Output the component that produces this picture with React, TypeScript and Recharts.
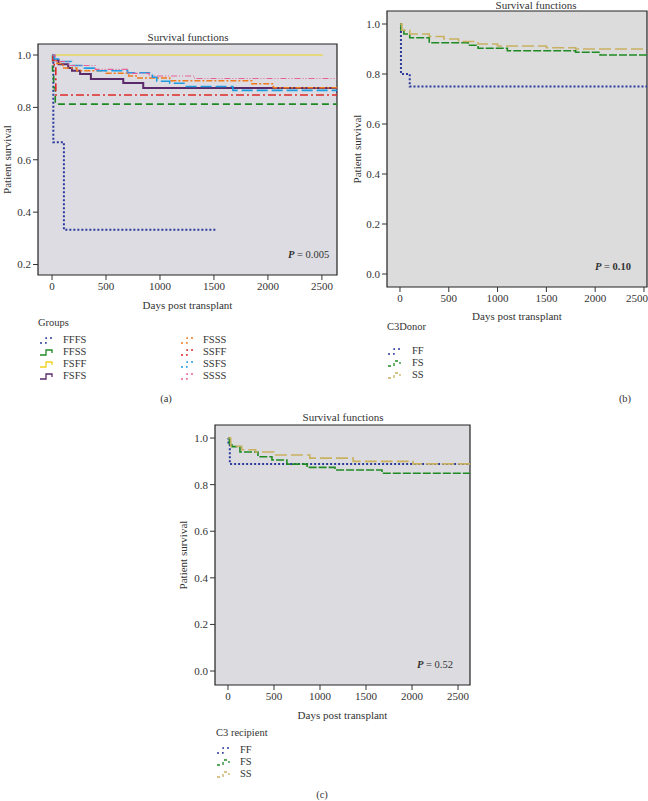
import React from "react";
import { LineChart, Line, XAxis, YAxis, CartesianGrid, ReferenceArea } from "recharts";

// ---------- Panel (a): Groups ----------
const fffsDays = [0, 12, 110, 1520];
const fffsSurv = [1.0, 0.667, 0.333, 0.333];
const ffssDays = [0, 5, 15, 30, 2640];
const ffssSurv = [1.0, 0.94, 0.875, 0.8125, 0.8125];
const fsffDays = [0, 2510];
const fsffSurv = [1.0, 1.0];
const fsfsDays = [0, 10, 60, 150, 185, 260, 360, 660, 845, 2640];
const fsfsSurv = [1.0, 0.98, 0.965, 0.95, 0.94, 0.927, 0.908, 0.893, 0.874, 0.855];
const fsssDays = [0, 20, 45, 100, 230, 500, 710, 780, 1090, 1850, 2050, 2640];
const fsssSurv = [1.0, 0.98, 0.968, 0.95, 0.94, 0.93, 0.92, 0.912, 0.902, 0.89, 0.875, 0.875];
const ssffDays = [0, 8, 20, 35, 2640];
const ssffSurv = [1.0, 0.98, 0.95, 0.847, 0.847];
const ssfsDays = [0, 20, 60, 180, 300, 420, 700, 930, 970, 1090, 1230, 1676, 2640];
const ssfsSurv = [1.0, 0.985, 0.975, 0.96, 0.95, 0.94, 0.932, 0.915, 0.9, 0.892, 0.88, 0.865, 0.865];
const ssssDays = [0, 30, 150, 400, 700, 900, 1320, 2640];
const ssssSurv = [1.0, 0.975, 0.96, 0.945, 0.93, 0.92, 0.91, 0.91];

// ---------- Panel (b): C3 donor ----------
const donorFFDays = [0, 10, 100, 2640];
const donorFFSurv = [1.0, 0.8, 0.75, 0.75];
const donorFSDays = [0, 10, 40, 100, 300, 700, 800, 1100, 1800, 2050, 2640];
const donorFSSurv = [1.0, 0.975, 0.96, 0.945, 0.925, 0.915, 0.903, 0.893, 0.887, 0.876, 0.876];
const donorSSDays = [0, 20, 100, 300, 450, 600, 800, 1000, 1500, 1800, 2640];
const donorSSSurv = [1.0, 0.975, 0.96, 0.95, 0.94, 0.93, 0.92, 0.912, 0.905, 0.9, 0.9];

// ---------- Panel (c): C3 recipient ----------
const recipFFDays = [0, 5, 20, 2640];
const recipFFSurv = [1.0, 0.97, 0.889, 0.889];
const recipFSDays = [0, 15, 43, 130, 326, 478, 640, 860, 1163, 1674, 2640];
const recipFSSurv = [1.0, 0.975, 0.963, 0.94, 0.92, 0.906, 0.888, 0.874, 0.863, 0.849, 0.849];
const recipSSDays = [0, 30, 150, 300, 500, 890, 1360, 2010, 2640];
const recipSSSurv = [1.0, 0.965, 0.95, 0.94, 0.927, 0.914, 0.9, 0.889, 0.889];

const xTicks = [0, 500, 1000, 1500, 2000, 2500];
const yTicksA = [0.2, 0.4, 0.6, 0.8, 1.0];
const yTicksBC = [0.0, 0.2, 0.4, 0.6, 0.8, 1.0];

const groupLabels = ["FFFS", "FFSS", "FSFF", "FSFS", "FSSS", "SSFF", "SSFS", "SSSS"];
const genoLabels = ["FF", "FS", "SS"];

const FONT = "'Liberation Serif', 'DejaVu Serif', serif";

type Style = { color: string; dash?: string; width: number; glyphDash?: string };

const groupStyles: Style[] = [
  { color: "#2b3a9c", dash: "2 2", width: 2, glyphDash: "2 3" },
  { color: "#1f8a22", dash: "7 4", width: 1.6 },
  { color: "#f1d21c", width: 1 },
  { color: "#5a2a6a", width: 2 },
  { color: "#f07a1e", dash: "6 2 2 2", width: 1.5, glyphDash: "2 3" },
  { color: "#df2a2a", dash: "8 3 2 3", width: 1.6, glyphDash: "2 3" },
  { color: "#1e9ce2", dash: "11 4", width: 1.6, glyphDash: "2 3" },
  { color: "#e8609a", dash: "6 2 1 2 1 2", width: 1.1, glyphDash: "2 3" },
];
const genoStyles: Style[] = [
  { color: "#2b3a9c", dash: "2 2", width: 2, glyphDash: "2 3" },
  { color: "#1f8a22", dash: "8 2", width: 1.6, glyphDash: "3 3" },
  { color: "#c8b060", dash: "12 4", width: 1.6, glyphDash: "3 3" },
];

const toPts = (d: number[], s: number[]) => d.map((t, i) => ({ t, s: s[i] }));

const groupSeries = [
  toPts(fffsDays, fffsSurv),
  toPts(ffssDays, ffssSurv),
  toPts(fsffDays, fsffSurv),
  toPts(fsfsDays, fsfsSurv),
  toPts(fsssDays, fsssSurv),
  toPts(ssffDays, ssffSurv),
  toPts(ssfsDays, ssfsSurv),
  toPts(ssssDays, ssssSurv),
];
const donorSeries = [
  toPts(donorFFDays, donorFFSurv),
  toPts(donorFSDays, donorFSSurv),
  toPts(donorSSDays, donorSSSurv),
];
const recipSeries = [
  toPts(recipFFDays, recipFFSurv),
  toPts(recipFSDays, recipFSSurv),
  toPts(recipSSDays, recipSSSurv),
];

type PanelProps = {
  left: number;
  top: number;
  width: number;
  height: number;
  margin: { top: number; right: number; left: number; bottom: number };
  yWidth: number;
  xDomain: [number, number];
  yDomain: [number, number];
  yTicks: number[];
  series: { t: number; s: number }[][];
  names: string[];
  styles: Style[];
  bg: string;
  yLabelOffset: number;
  xLabelOffset: number;
};

const tickStyle = { fontSize: 11, fontFamily: FONT, fill: "#333" };

function Panel(p: PanelProps) {
  return (
    <div style={{ position: "absolute", left: p.left, top: p.top }}>
      <LineChart width={p.width} height={p.height} margin={p.margin}>
        <CartesianGrid horizontal={false} vertical={false} fill={p.bg} fillOpacity={1} />
        <XAxis
          type="number"
          dataKey="t"
          domain={p.xDomain}
          allowDataOverflow
          ticks={xTicks}
          tick={tickStyle}
          tickLine={{ stroke: "#333" }}
          tickSize={5}
          axisLine={false}
          height={40}
          label={{
            value: "Days post transplant",
            position: "insideBottom",
            offset: p.xLabelOffset,
            style: { fontSize: 11, fontFamily: FONT, fill: "#333" },
          }}
        />
        <YAxis
          type="number"
          domain={p.yDomain}
          allowDataOverflow
          ticks={p.yTicks}
          tickFormatter={(v: number) => v.toFixed(1)}
          tick={tickStyle}
          tickLine={{ stroke: "#333" }}
          tickSize={5}
          axisLine={false}
          width={p.yWidth}
          label={{
            value: "Patient survival",
            angle: -90,
            position: "insideLeft",
            offset: p.yLabelOffset,
            style: { fontSize: 11, fontFamily: FONT, fill: "#333", textAnchor: "middle" },
          }}
        />
        {p.series.map((d, i) => (
          <Line
            key={p.names[i]}
            data={d}
            dataKey="s"
            name={p.names[i]}
            type="stepAfter"
            stroke={p.styles[i].color}
            strokeWidth={p.styles[i].width}
            strokeDasharray={p.styles[i].dash}
            dot={false}
            activeDot={false}
            isAnimationActive={false}
          />
        ))}
        <ReferenceArea
          x1={p.xDomain[0]}
          x2={p.xDomain[1]}
          y1={p.yDomain[0]}
          y2={p.yDomain[1]}
          fill="none"
          stroke="#222"
          strokeWidth={1.2}
          ifOverflow="visible"
        />
      </LineChart>
    </div>
  );
}

function Glyph({ s }: { s: Style }) {
  return (
    <svg width={16} height={10} style={{ display: "block" }}>
      <path
        d="M1 8 H7 V3 H13 V6"
        fill="none"
        stroke={s.color}
        strokeWidth={1.3}
        strokeDasharray={s.glyphDash}
      />
    </svg>
  );
}

const txt: React.CSSProperties = {
  position: "absolute",
  fontFamily: FONT,
  fontSize: 10.5,
  color: "#333",
  whiteSpace: "nowrap",
  lineHeight: "12px",
};

function LegendRow({ x, y, s, label, textDx }: { x: number; y: number; s: Style; label: string; textDx: number }) {
  return (
    <>
      <div style={{ position: "absolute", left: x, top: y - 5 }}>
        <Glyph s={s} />
      </div>
      <div style={{ ...txt, left: x + textDx, top: y - 6 }}>{label}</div>
    </>
  );
}

function Centered({ x, y, children, style }: { x: number; y: number; children: React.ReactNode; style?: React.CSSProperties }) {
  return (
    <div style={{ ...txt, left: x - 100, width: 200, top: y - 6, textAlign: "center", ...style }}>{children}</div>
  );
}

export default function App() {
  return (
    <div style={{ position: "absolute", left: 0, top: 0, width: 648, height: 801, background: "#fff", overflow: "hidden" }}>
      {/* Panel (a) */}
      <Panel
        left={0}
        top={0}
        width={345}
        height={315}
        margin={{ top: 44, right: 8, left: 0, bottom: 0 }}
        yWidth={38}
        xDomain={[-130, 2640]}
        yDomain={[0.16, 1.042]}
        yTicks={yTicksA}
        series={groupSeries}
        names={groupLabels}
        styles={groupStyles}
        bg="#dcdce2"
        yLabelOffset={7}
        xLabelOffset={6}
      />
      <Centered x={188} y={37} style={{ fontSize: 11 }}>Survival functions</Centered>
      <div style={{ ...txt, left: 288, top: 249 }}>
        <i><b>P</b></i> = 0.005
      </div>
      <div style={{ ...txt, left: 38, top: 317 }}>Groups</div>
      {groupLabels.slice(0, 4).map((g, i) => (
        <LegendRow key={g} x={39} y={340 + i * 12} s={groupStyles[i]} label={g} textDx={24} />
      ))}
      {groupLabels.slice(4).map((g, i) => (
        <LegendRow key={g} x={180} y={340 + i * 12} s={groupStyles[i + 4]} label={g} textDx={23} />
      ))}
      <Centered x={166} y={399}>(a)</Centered>

      {/* Panel (b) */}
      <Panel
        left={350}
        top={0}
        width={298}
        height={327}
        margin={{ top: 11, right: 1, left: 0, bottom: 0 }}
        yWidth={37}
        xDomain={[-133, 2531]}
        yDomain={[-0.052, 1.052]}
        yTicks={yTicksBC}
        series={donorSeries}
        names={genoLabels}
        styles={genoStyles}
        bg="#dcdcdc"
        yLabelOffset={7}
        xLabelOffset={7}
      />
      <div style={{ ...txt, left: 436, width: 200, top: 0, lineHeight: "10px", textAlign: "center", fontSize: 11 }}>
        Survival functions
      </div>
      <div style={{ ...txt, left: 595, top: 261 }}>
        <i><b>P</b></i> = <b>0.10</b>
      </div>
      <div style={{ ...txt, left: 387, top: 321 }}>C3Donor</div>
      {genoLabels.map((g, i) => (
        <LegendRow key={"b" + g} x={387} y={351 + i * 12} s={genoStyles[i]} label={g} textDx={25} />
      ))}
      <Centered x={625} y={399}>(b)</Centered>

      {/* Panel (c) */}
      <Panel
        left={177}
        top={380}
        width={301}
        height={345}
        margin={{ top: 45, right: 8, left: 0, bottom: 0 }}
        yWidth={38}
        xDomain={[-141, 2630]}
        yDomain={[-0.06, 1.056]}
        yTicks={yTicksBC}
        series={recipSeries}
        names={genoLabels}
        styles={genoStyles}
        bg="#dcdce0"
        yLabelOffset={6}
        xLabelOffset={6}
      />
      <Centered x={343} y={417} style={{ fontSize: 11 }}>Survival functions</Centered>
      <div style={{ ...txt, left: 417, top: 659 }}>
        <i><b>P</b></i> = 0.52
      </div>
      <div style={{ ...txt, left: 216, top: 727 }}>C3 recipient</div>
      {genoLabels.map((g, i) => (
        <LegendRow key={"c" + g} x={216} y={750 + i * 12} s={genoStyles[i]} label={g} textDx={24} />
      ))}
      <Centered x={322} y={795}>(c)</Centered>
    </div>
  );
}
